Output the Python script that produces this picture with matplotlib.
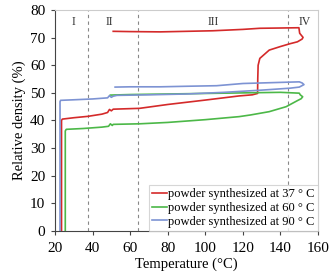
import matplotlib
matplotlib.use('Agg')
import matplotlib.pyplot as plt

plt.rcParams['font.family'] = ['Liberation Serif', 'DejaVu Serif']

# powder synthesized at 37 C
x37 = [23.5, 23.5, 23.9, 30, 37.5, 45, 48, 49, 50, 51, 65, 80, 100, 118, 125, 127.8,
       127.9, 128.1, 129, 134, 140, 145, 149, 151.5, 152, 150.2, 149.8, 140, 129, 120,
       104, 90, 76, 60, 51]
y37 = [0, 40.0, 40.5, 41.0, 41.5, 42.3, 42.9, 44.0, 43.5, 44.1, 44.4, 45.8, 47.4, 48.9,
       49.3, 49.8, 55.0, 60.0, 62.5, 65.5, 66.8, 67.8, 68.5, 69.5, 70.1, 71.6, 73.6, 73.5,
       73.4, 73.0, 72.5, 72.3, 72.1, 72.2, 72.3]

# powder synthesized at 60 C
x60 = [25.5, 25.5, 26, 35, 45, 48.5, 49.5, 50.5, 51, 65, 80, 100, 118, 124, 134, 143,
       149, 151, 151.8, 150.5, 150, 140, 120, 100, 80, 60, 49.5]
y60 = [0, 36.2, 36.8, 37.1, 37.6, 37.9, 38.8, 38.2, 38.6, 38.8, 39.3, 40.3, 41.4, 42.0,
       43.2, 45.0, 47.2, 47.9, 48.6, 49.3, 49.9, 50.2, 50.0, 49.8, 49.6, 49.4, 49.2]

# powder synthesized at 90 C
x90 = [22.7, 22.7, 23, 30, 40, 48, 49, 50, 51, 53, 70, 90, 110, 130, 145, 150, 152.5,
       151.5, 150, 140, 120, 106, 90, 76, 60, 52]
y90 = [0, 46.8, 47.3, 47.5, 47.8, 48.2, 49.0, 48.4, 48.8, 49.1, 49.3, 49.6, 50.2, 51.0,
       51.7, 52.1, 53.0, 53.6, 54.0, 53.8, 53.4, 52.6, 52.4, 52.2, 52.2, 52.1]

region_x = [37.5, 64, 144]
region_labels = ['I', 'II', 'III', 'IV']
region_label_x = [30, 49, 104, 153]

fig = plt.figure(figsize=(3.31, 2.72), dpi=100)
ax = fig.add_axes([0.166, 0.151, 0.795, 0.812])

for xv in region_x:
    ax.axvline(xv, color='#888888', ls=(0, (3, 3)), lw=0.8)
for lx, lab in zip(region_label_x, region_labels):
    ax.text(lx, 75.5, lab, ha='center', va='center', fontsize=8.5, color='#333333')

ax.plot(x37, y37, color='#d42a2a', lw=1.2, label='powder synthesized at 37 ° C')
ax.plot(x60, y60, color='#4cb848', lw=1.2, label='powder synthesized at 60 ° C')
ax.plot(x90, y90, color='#7d93d3', lw=1.2, label='powder synthesized at 90 ° C')

ax.set_xlim(20, 160)
ax.set_ylim(0, 80)
ax.set_xticks(range(20, 161, 20))
ax.set_yticks(range(0, 81, 10))
ax.tick_params(labelsize=11, direction='out', length=3, width=0.8, color='#444444')
ax.tick_params(axis='x', pad=5)
ax.tick_params(axis='y', pad=4)
ax.set_xlabel('Temperature (°C)', fontsize=10.5, labelpad=2)
ax.set_ylabel('Relative density (%)', fontsize=10.5, labelpad=3)
for s in ['left', 'bottom']:
    ax.spines[s].set_color('#444444')
for s in ['top', 'right']:
    ax.spines[s].set_color('#cccccc')

leg = ax.legend(loc='lower right', fontsize=9, handlelength=1.2, handletextpad=0.1,
                borderpad=0.25, labelspacing=0.15, borderaxespad=0, frameon=True,
                fancybox=False, edgecolor='#cccccc')
leg.get_frame().set_linewidth(0.8)

fig.savefig('out.png', dpi=100)
